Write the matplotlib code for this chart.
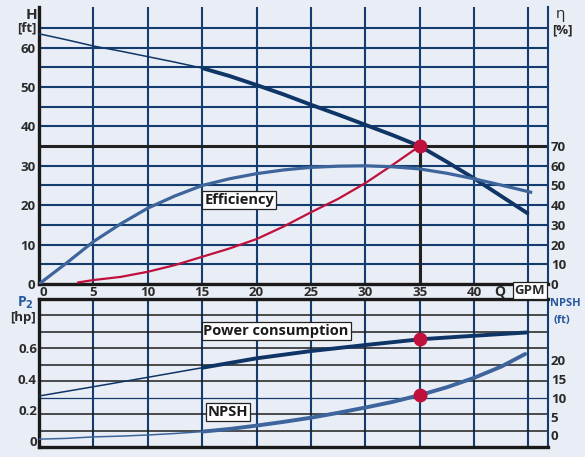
import numpy as np
import matplotlib
matplotlib.use("Agg")
import matplotlib.pyplot as plt
from matplotlib.ticker import FixedLocator

plt.rcParams['font.family'] = ['Open Sans', 'DejaVu Sans']

# pump curve values
q_head = [0, 2.5, 5, 7.5, 10, 12.5, 15, 17.5, 20, 22.5, 25, 27.5, 30, 32.5, 35, 37.5, 40, 42.5, 45]
head_ft = [63.5, 62.0, 60.4, 59.1, 57.7, 56.3, 54.8, 52.8, 50.5, 48.1, 45.5, 43.0, 40.4, 37.8,
           35.0, 31.0, 26.8, 22.3, 17.8]

q_eff = [0, 2.5, 5, 7.5, 10, 12.5, 15, 17.5, 20, 22.5, 25, 27.5, 30, 32.5, 35, 37.5, 40, 42.5, 45.2]
eff_pct = [0, 10.5, 21.5, 30.5, 38.5, 44.7, 50.0, 53.4, 56.0, 57.9, 59.2, 59.8, 60.0, 59.5,
           58.4, 56.2, 53.4, 50.2, 46.6]

q_sys = [3.6, 5, 7.5, 10, 12.5, 15, 17.5, 20, 22.5, 25, 27.5, 30, 32.5, 35]
sys_ft = [0.4, 1.0, 1.8, 3.1, 4.8, 6.9, 9.0, 11.4, 14.6, 18.2, 21.6, 25.6, 30.2, 35.0]

q_p2 = [0, 5, 10, 15, 20, 25, 30, 35, 40, 45]
p2_hp = [0.292, 0.352, 0.413, 0.475, 0.536, 0.583, 0.622, 0.659, 0.682, 0.704]

q_npsh = [0, 2.5, 5, 7.5, 10, 12.5, 15, 17.5, 20, 22.5, 25, 27.5, 30, 32.5, 35, 37.5, 40, 42.5, 44.8]
npsh_ft = [-1.0, -0.8, -0.4, -0.2, 0.1, 0.5, 1.0, 1.7, 2.6, 3.6, 4.7, 6.0, 7.4, 8.9,
           10.7, 12.8, 15.3, 18.3, 21.8]

duty_q = 35
duty_h = 35.0
thick_from = 15

x_ticks = [0, 5, 10, 15, 20, 25, 30, 35, 40]
h_ticks = [0, 10, 20, 30, 40, 50, 60]
eta_ticks = [0, 10, 20, 30, 40, 50, 60, 70]
p2_ticks = [0, 0.2, 0.4, 0.6]
npsh_ticks = [0, 5, 10, 15, 20]

BG = '#e9edf5'
NAVY = '#143c6e'
CURVE = '#0e3566'
EFFC = '#3d659c'
RED = '#c0103c'
INK = '#2a2a2a'
BLUE_TXT = '#2558a0'
TS = 9.5
WT = 'bold'

W, H = 585, 457
fig = plt.figure(figsize=(W / 100, H / 100), dpi=100, facecolor=BG)


def frame(l, t, r, b):
    return [l / W, 1 - b / H, (r - l) / W, (b - t) / H]


xmax = 46.8

# ---------------- top panel: head / efficiency ----------------
ax = fig.add_axes(frame(39, 7, 548, 284))
ax.set_facecolor(BG)
ax.set_xlim(0, xmax)
ax.set_ylim(0, 70.3)
for q in range(5, 46, 5):
    ax.axvline(q, color=NAVY, lw=1.5, zorder=1)
for h in range(5, 70, 5):
    if h != 35:
        ax.axhline(h, color=NAVY, lw=1.5, zorder=1)
ax.axhline(duty_h, color='#222222', lw=2.2, zorder=2)
ax.plot([duty_q, duty_q], [0, duty_h], color='#222222', lw=2.2, zorder=2)

ax.spines['top'].set_visible(False)
ax.spines['left'].set_color('#1a1a1a')
ax.spines['left'].set_linewidth(2.4)
ax.spines['bottom'].set_color('#1a1a1a')
ax.spines['bottom'].set_linewidth(2.4)
ax.spines['right'].set_color(NAVY)
ax.spines['right'].set_linewidth(1.5)

ax.xaxis.set_major_locator(FixedLocator(x_ticks))
ax.yaxis.set_major_locator(FixedLocator(h_ticks))
ax.tick_params(axis='y', length=0, labelsize=TS, labelcolor=INK, pad=2.5)
ax.tick_params(axis='x', length=0, labelsize=TS, labelcolor=INK, pad=1.5)
for lab in ax.get_xticklabels() + ax.get_yticklabels():
    lab.set_fontweight(WT)
ax.get_xticklabels()[0].set_horizontalalignment('left')

# head curve: thin then thick
ax.plot(q_head, head_ft, color=CURVE, lw=1.1, zorder=4)
i0 = q_head.index(thick_from)
ax.plot(q_head[i0:], head_ft[i0:], color=CURVE, lw=2.8, zorder=4,
        solid_capstyle='butt')
# system curve
ax.plot(q_sys, sys_ft, color=RED, lw=1.6, zorder=5)
ax.plot([duty_q], [duty_h], 'o', color=RED, ms=9, zorder=6)

# efficiency on the right scale
ax_eta = ax.twinx()
ax_eta.set_ylim(0, 140.6)
ax_eta.plot(q_eff, eff_pct, color=EFFC, lw=2.3, zorder=3)
ax_eta.yaxis.set_major_locator(FixedLocator(eta_ticks))
ax_eta.tick_params(length=0, labelsize=TS, labelcolor=INK, pad=2)
for lab in ax_eta.get_yticklabels():
    lab.set_fontweight(WT)
for s in ax_eta.spines.values():
    s.set_visible(False)

box = dict(boxstyle='square,pad=0.12', fc='white', ec='#222222', lw=0.9)
ax.text(18.4, 21.3, 'Efficiency', ha='center', va='center', fontsize=10.5,
        fontweight=WT, color='#1a1a1a', zorder=7, bbox=box)

# ---------------- bottom panel: P2 / NPSH ----------------
bx = fig.add_axes(frame(39, 299, 548, 447))
bx.set_facecolor(BG)
bx.set_xlim(0, xmax)
bx.set_ylim(0, 9)
for q in range(5, 46, 5):
    bx.axvline(q, color=NAVY, lw=1.5, zorder=1)
for r in range(1, 9):
    if r == 3:
        bx.axhline(r, color=NAVY, lw=0.9, zorder=1)
    else:
        bx.axhline(r, color='#1e1e1e', lw=1.1, zorder=1)
bx.set_xticks([])
bx.set_yticks([])
for s in ['top', 'bottom', 'left']:
    bx.spines[s].set_color('#1a1a1a')
    bx.spines[s].set_linewidth(2.4)
bx.spines['right'].set_color(NAVY)
bx.spines['right'].set_linewidth(1.5)

# power consumption (left scale)
px = bx.twinx()
px.yaxis.tick_left()
px.set_ylim(-0.038, 0.920)
px.plot(q_p2, p2_hp, color=CURVE, lw=1.1, zorder=4)
j0 = q_p2.index(thick_from)
px.plot(q_p2[j0:], p2_hp[j0:], color=CURVE, lw=2.8, zorder=4,
        solid_capstyle='butt')
px.plot([duty_q], [p2_hp[q_p2.index(duty_q)]], 'o', color=RED, ms=9, zorder=6)
px.yaxis.set_major_locator(FixedLocator(p2_ticks))
px.yaxis.set_major_formatter(plt.FuncFormatter(lambda v, p: '0' if v == 0 else f'{v:.1f}'))
px.tick_params(length=0, labelsize=TS, labelcolor=INK, pad=1.5)
for lab in px.get_yticklabels():
    lab.set_fontweight(WT)
for s in px.spines.values():
    s.set_visible(False)

# NPSH (right scale)
nx = bx.twinx()
nx.set_ylim(-3.09, 36.28)
nx.plot(q_npsh, npsh_ft, color=EFFC, lw=1.1, zorder=4)
k0 = q_npsh.index(thick_from)
nx.plot(q_npsh[k0:], npsh_ft[k0:], color=EFFC, lw=2.8, zorder=4,
        solid_capstyle='butt')
nx.plot([duty_q], [npsh_ft[q_npsh.index(duty_q)]], 'o', color=RED, ms=9, zorder=6)
nx.yaxis.set_major_locator(FixedLocator(npsh_ticks))
nx.tick_params(length=0, labelsize=TS, labelcolor=INK, pad=2)
for lab in nx.get_yticklabels():
    lab.set_fontweight(WT)
for s in nx.spines.values():
    s.set_visible(False)

bx.text(21.8, 7.06, 'Power consumption', ha='center', va='center', fontsize=10.5,
        fontweight=WT, color='#1a1a1a', zorder=7, bbox=box)
bx.text(17.4, 2.12, 'NPSH', ha='center', va='center', fontsize=10.5,
        fontweight=WT, color='#1a1a1a', zorder=7, bbox=box)

# ---------------- axis captions ----------------
def ftxt(x, y, s, **kw):
    kw.setdefault('fontsize', TS)
    kw.setdefault('fontweight', WT)
    kw.setdefault('color', INK)
    fig.text(x / W, 1 - y / H, s, **kw)


ftxt(37, 15, 'H', ha='right', va='center', fontsize=11)
ftxt(37, 28, '[ft]', ha='right', va='center')
ftxt(556, 15, 'η', ha='left', va='center', fontsize=11, fontweight='normal')
ftxt(552, 30, '[%]', ha='left', va='center')
ftxt(34, 303, 'P$_\\mathbf{2}$', ha='right', va='center', color=BLUE_TXT, fontsize=10)
ftxt(36, 317, '[hp]', ha='right', va='center')
ftxt(550, 304, 'NPSH', ha='left', va='center', color=BLUE_TXT, fontsize=8)
ftxt(553, 321, '(ft)', ha='left', va='center', color=BLUE_TXT, fontsize=8)
ftxt(500, 291, 'Q', ha='center', va='center', fontsize=10)
ftxt(530, 290.5, 'GPM', ha='center', va='center', fontsize=9.5,
     bbox=dict(boxstyle='square,pad=0.15', fc='white', ec='#222222', lw=0.9))

fig.savefig('out.png', dpi=100, facecolor=BG)
